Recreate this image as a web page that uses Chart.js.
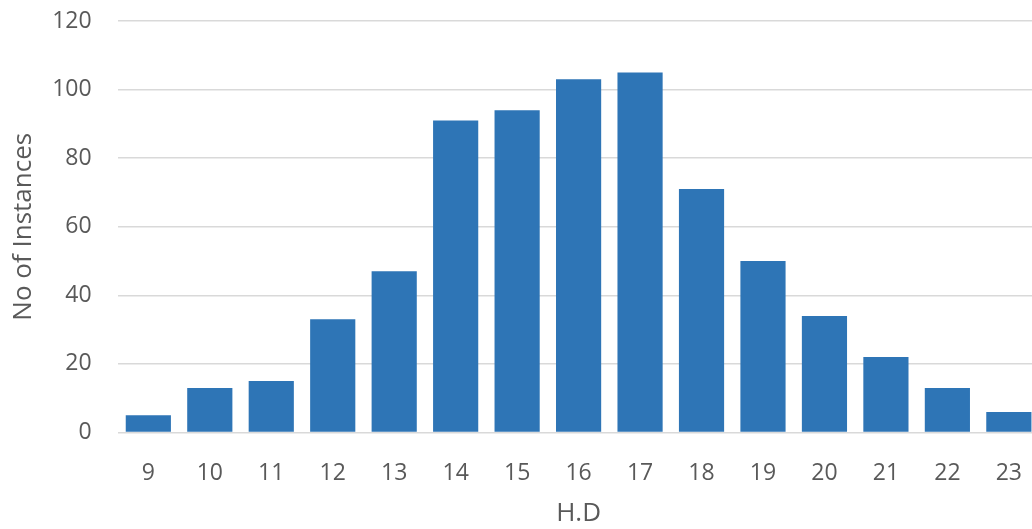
<!DOCTYPE html>
<html>
<head>
<meta charset="utf-8">
<script src="https://cdn.jsdelivr.net/npm/chart.js@4/dist/chart.umd.min.js"></script>
<style>
  html, body { margin: 0; padding: 0; background: #ffffff; }
  #frame { width: 1032px; height: 529px; overflow: hidden; position: relative; }
  #chart { display: block; }
</style>
</head>
<body>
<div id="frame">
  <canvas id="chart" width="1049" height="529"></canvas>
</div>
<script>
// H.D histogram: number of instances per H.D value
const categories = ['9', '10', '11', '12', '13', '14', '15', '16', '17', '18', '19', '20', '21', '22', '23'];
const instances = [5, 13, 15, 33, 47, 91, 94, 103, 105, 71, 50, 34, 22, 13, 6];
const yTicks = { min: 0, max: 120, step: 20 };

const textColor = '#595959';
const fontFamily = '"Open Sans", "Noto Sans", sans-serif';

new Chart(document.getElementById('chart'), {
  type: 'bar',
  data: {
    labels: categories,
    datasets: [{
      label: 'No of Instances',
      data: instances,
      backgroundColor: '#2E75B6',
      borderWidth: 0,
      barPercentage: 0.735,
      categoryPercentage: 1.0
    }]
  },
  options: {
    responsive: false,
    devicePixelRatio: 1,
    animation: false,
    layout: { padding: { top: 21, right: 0, bottom: 0, left: 0 } },
    plugins: {
      legend: { display: false },
      tooltip: { enabled: false }
    },
    scales: {
      x: {
        grid: { display: false, drawTicks: false },
        border: { display: false },
        ticks: {
          color: textColor,
          font: { family: fontFamily, size: 23 },
          padding: 27,
          maxRotation: 0
        },
        title: {
          display: true,
          text: 'H.D',
          color: textColor,
          font: { family: fontFamily, size: 26 },
          padding: { top: 0, bottom: 0 }
        },
        afterFit: (scale) => { scale.height = 96.5; }
      },
      y: {
        min: yTicks.min,
        max: yTicks.max,
        grid: { color: '#d9d9d9', lineWidth: 1.5, drawTicks: false },
        border: { display: false },
        ticks: {
          stepSize: yTicks.step,
          color: textColor,
          font: { family: fontFamily, size: 23 },
          padding: 26
        },
        title: {
          display: true,
          text: 'No of Instances',
          color: textColor,
          font: { family: fontFamily, size: 26 },
          padding: { top: 8, bottom: 0 }
        },
        afterFit: (scale) => {
          scale.width = 117.6;
          // the top tick label fits inside the outer padding
          scale.paddingTop = 0;
          scale.paddingBottom = 0;
        }
      }
    }
  }
});
</script>
</body>
</html>
